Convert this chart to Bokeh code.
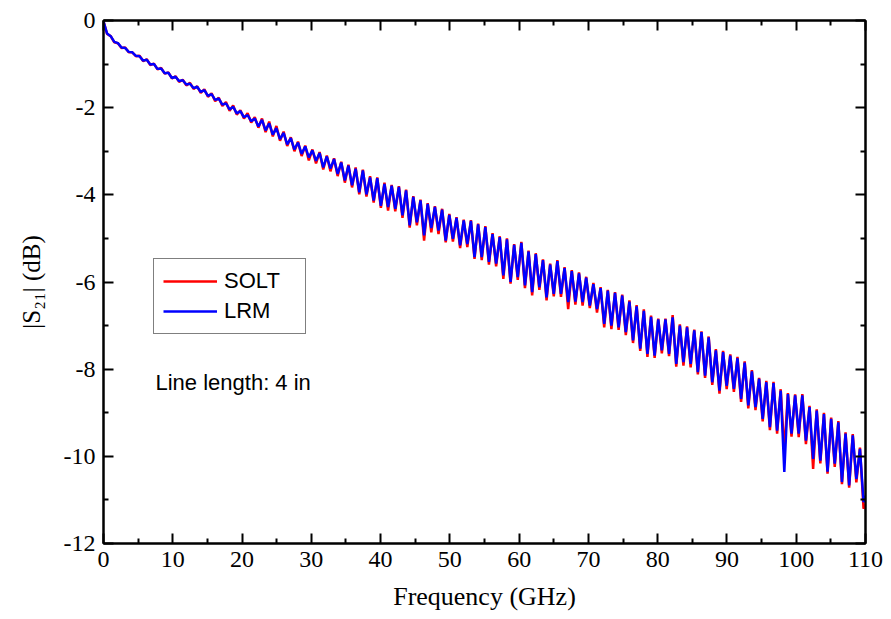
from bokeh.plotting import figure
from bokeh.models import (ColumnDataSource, FixedTicker, LinearAxis, Range1d,
                          Legend, LegendItem, Label)
from bokeh.embed import file_html
from bokeh.resources import INLINE

# Frequency sweep points (GHz) (peaks / troughs of the ripple)
freq_ghz = [
    0.0, 0.52, 1.04, 1.56, 2.08, 2.6, 3.12, 3.64, 4.16, 4.68,
    5.2, 5.72, 6.24, 6.76, 7.28, 7.8, 8.32, 8.84, 9.36, 9.88,
    10.4, 10.92, 11.44, 11.96, 12.48, 13.0, 13.52, 14.04, 14.56, 15.08,
    15.6, 16.12, 16.64, 17.16, 17.68, 18.2, 18.72, 19.24, 19.76, 20.28,
    20.8, 21.32, 21.84, 22.36, 22.88, 23.4, 23.92, 24.44, 24.96, 25.48,
    26.0, 26.52, 27.04, 27.56, 28.08, 28.6, 29.12, 29.64, 30.16, 30.68,
    31.2, 31.72, 32.24, 32.76, 33.28, 33.8, 34.32, 34.84, 35.36, 35.88,
    36.4, 36.92, 37.44, 37.96, 38.48, 39.0, 39.52, 40.04, 40.56, 41.08,
    41.6, 42.12, 42.64, 43.16, 43.68, 44.2, 44.72, 45.24, 45.76, 46.28,
    46.8, 47.32, 47.84, 48.36, 48.88, 49.4, 49.92, 50.44, 50.96, 51.48,
    52.0, 52.52, 53.04, 53.56, 54.08, 54.6, 55.12, 55.64, 56.16, 56.68,
    57.2, 57.72, 58.24, 58.76, 59.28, 59.8, 60.32, 60.84, 61.36, 61.88,
    62.4, 62.92, 63.44, 63.96, 64.48, 65.0, 65.52, 66.04, 66.56, 67.08,
    67.6, 68.12, 68.64, 69.16, 69.68, 70.2, 70.72, 71.24, 71.76, 72.28,
    72.8, 73.32, 73.84, 74.36, 74.88, 75.4, 75.92, 76.44, 76.96, 77.48,
    78.0, 78.52, 79.04, 79.56, 80.08, 80.6, 81.12, 81.64, 82.16, 82.68,
    83.2, 83.72, 84.24, 84.76, 85.28, 85.8, 86.32, 86.84, 87.36, 87.88,
    88.4, 88.92, 89.44, 89.96, 90.48, 91.0, 91.52, 92.04, 92.56, 93.08,
    93.6, 94.12, 94.64, 95.16, 95.68, 96.2, 96.72, 97.24, 97.76, 98.28,
    98.8, 99.32, 99.84, 100.36, 100.88, 101.4, 101.92, 102.44, 102.96, 103.48,
    104.0, 104.52, 105.04, 105.56, 106.08, 106.6, 107.12, 107.64, 108.16, 108.68,
    109.2, 109.72, 110.0,
]

# |S21| (dB), SOLT calibration (red)
s21_solt_db = [
    -0.02, -0.31, -0.36, -0.50, -0.52, -0.63, -0.62, -0.73, -0.73, -0.82,
    -0.81, -0.93, -0.89, -1.02, -0.99, -1.12, -1.09, -1.22, -1.19, -1.33,
    -1.28, -1.41, -1.36, -1.49, -1.43, -1.57, -1.51, -1.66, -1.58, -1.75,
    -1.67, -1.85, -1.77, -1.96, -1.87, -2.07, -1.95, -2.16, -2.06, -2.25,
    -2.13, -2.34, -2.22, -2.46, -2.25, -2.56, -2.32, -2.66, -2.42, -2.76,
    -2.55, -2.88, -2.68, -3.00, -2.78, -3.11, -2.87, -3.21, -2.96, -3.28,
    -3.02, -3.42, -3.10, -3.46, -3.16, -3.57, -3.24, -3.72, -3.31, -3.83,
    -3.37, -3.99, -3.42, -4.04, -3.57, -4.18, -3.60, -4.30, -3.72, -4.36,
    -3.77, -4.38, -3.80, -4.53, -3.88, -4.75, -4.03, -4.70, -4.11, -5.05,
    -4.19, -4.86, -4.26, -4.90, -4.32, -5.09, -4.44, -5.07, -4.51, -5.22,
    -4.57, -5.20, -4.58, -5.47, -4.66, -5.50, -4.72, -5.60, -4.88, -5.64,
    -4.95, -5.93, -5.00, -6.04, -5.13, -5.95, -5.08, -6.14, -5.28, -6.31,
    -5.34, -6.18, -5.48, -6.42, -5.58, -6.33, -5.50, -6.34, -5.66, -6.62,
    -5.73, -6.52, -5.78, -6.54, -5.88, -6.60, -6.02, -6.70, -6.12, -7.04,
    -6.18, -7.08, -6.23, -7.10, -6.29, -7.22, -6.42, -7.40, -6.53, -7.58,
    -6.63, -7.72, -6.77, -7.74, -6.84, -7.64, -6.84, -7.70, -6.76, -7.94,
    -6.97, -7.92, -7.02, -7.96, -7.09, -8.12, -7.13, -8.20, -7.25, -8.36,
    -7.54, -8.56, -7.58, -8.46, -7.66, -8.52, -7.72, -8.75, -7.82, -8.90,
    -8.02, -8.94, -8.20, -9.20, -8.27, -9.40, -8.29, -9.48, -8.46, -9.90,
    -8.55, -9.55, -8.58, -9.56, -8.57, -9.72, -8.84, -10.29, -8.92, -10.16,
    -9.00, -10.40, -9.11, -10.24, -9.19, -10.64, -9.45, -10.72, -9.49, -10.60,
    -9.80, -11.20, -11.10,
]

# |S21| (dB), LRM calibration (blue)
s21_lrm_db = [
    -0.02, -0.30, -0.36, -0.49, -0.52, -0.62, -0.63, -0.72, -0.73, -0.81,
    -0.82, -0.92, -0.90, -1.01, -1.00, -1.11, -1.10, -1.21, -1.20, -1.32,
    -1.29, -1.39, -1.37, -1.47, -1.45, -1.55, -1.52, -1.64, -1.60, -1.73,
    -1.69, -1.82, -1.79, -1.93, -1.90, -2.04, -1.98, -2.13, -2.08, -2.22,
    -2.17, -2.31, -2.25, -2.43, -2.28, -2.52, -2.36, -2.62, -2.47, -2.72,
    -2.58, -2.84, -2.70, -2.96, -2.80, -3.06, -2.89, -3.14, -2.98, -3.22,
    -3.04, -3.37, -3.12, -3.40, -3.18, -3.52, -3.26, -3.67, -3.33, -3.78,
    -3.40, -3.94, -3.44, -3.99, -3.60, -4.13, -3.62, -4.25, -3.75, -4.28,
    -3.79, -4.32, -3.82, -4.47, -3.90, -4.70, -4.05, -4.63, -4.13, -4.93,
    -4.21, -4.76, -4.28, -4.82, -4.34, -5.05, -4.46, -5.01, -4.53, -5.16,
    -4.59, -5.13, -4.60, -5.43, -4.68, -5.43, -4.74, -5.54, -4.90, -5.58,
    -4.97, -5.85, -5.02, -6.00, -5.15, -5.89, -5.10, -6.08, -5.30, -6.23,
    -5.36, -6.12, -5.50, -6.35, -5.60, -6.27, -5.52, -6.27, -5.68, -6.46,
    -5.75, -6.45, -5.80, -6.46, -5.90, -6.54, -6.05, -6.62, -6.14, -6.96,
    -6.20, -7.00, -6.25, -7.04, -6.31, -7.15, -6.45, -7.34, -6.56, -7.53,
    -6.66, -7.65, -6.80, -7.69, -6.86, -7.57, -6.86, -7.65, -6.81, -7.88,
    -7.00, -7.84, -7.04, -7.88, -7.11, -8.07, -7.15, -8.15, -7.27, -8.30,
    -7.57, -8.49, -7.61, -8.38, -7.69, -8.45, -7.75, -8.68, -7.85, -8.83,
    -8.05, -8.87, -8.22, -9.14, -8.30, -9.33, -8.32, -9.41, -8.49, -10.36,
    -8.57, -9.48, -8.60, -9.48, -8.60, -9.64, -8.87, -10.06, -8.95, -10.10,
    -9.03, -10.35, -9.14, -10.17, -9.22, -10.59, -9.48, -10.67, -9.52, -10.52,
    -9.83, -11.05, -10.90,
]

x_major_ticks = [0, 10, 20, 30, 40, 50, 60, 70, 80, 90, 100, 110]
x_minor_ticks = [5, 15, 25, 35, 45, 55, 65, 75, 85, 95, 105]
y_major_ticks = [0, -2, -4, -6, -8, -10, -12]
y_minor_ticks = [-1, -3, -5, -7, -9, -11]

series_names = ["SOLT", "LRM"]
x_title = "Frequency (GHz)"
y_title = "|S\u2082\u2081| (dB)"
note_text = "Line length: 4 in"

source = ColumnDataSource(data=dict(f=freq_ghz, solt=s21_solt_db, lrm=s21_lrm_db))

p = figure(width=885, height=615, output_backend="svg", toolbar_location=None,
           x_range=Range1d(0, 110), y_range=Range1d(-12, 0),
           min_border_left=103, min_border_right=20, min_border_top=20,
           min_border_bottom=72)
p.background_fill_color = "white"
p.border_fill_color = "white"
p.outline_line_color = "black"
p.outline_line_width = 2
p.xgrid.visible = False
p.ygrid.visible = False


def style_axis(ax, major, minor, labels=True):
    ax.ticker = FixedTicker(ticks=major, minor_ticks=minor)
    ax.axis_line_color = "black"
    ax.axis_line_width = 2
    ax.major_tick_in = 10
    ax.major_tick_out = 0
    ax.minor_tick_in = 5
    ax.minor_tick_out = 0
    ax.major_tick_line_color = "black"
    ax.minor_tick_line_color = "black"
    ax.major_tick_line_width = 2
    ax.minor_tick_line_width = 2
    if labels:
        ax.major_label_text_font = "Liberation Serif"
        ax.major_label_text_font_size = "24px"
        ax.major_label_text_color = "black"
        ax.major_label_standoff = 8
        ax.major_label_overrides = {t: str(t) for t in major}
    else:
        ax.major_label_text_font_size = "1px"
        ax.major_label_text_color = None
        ax.major_label_standoff = 0


style_axis(p.xaxis[0], x_major_ticks, x_minor_ticks)
style_axis(p.yaxis[0], y_major_ticks, y_minor_ticks)
p.xaxis[0].axis_label = x_title
p.xaxis[0].axis_label_text_font = "Liberation Serif"
p.xaxis[0].axis_label_text_font_size = "26px"
p.xaxis[0].axis_label_text_font_style = "normal"
p.xaxis[0].axis_label_text_color = "black"
p.xaxis[0].axis_label_standoff = 12

p.yaxis[0].axis_label = y_title
p.yaxis[0].axis_label_text_font = "Liberation Serif"
p.yaxis[0].axis_label_text_font_size = "25px"
p.yaxis[0].axis_label_text_font_style = "normal"
p.yaxis[0].axis_label_text_color = "black"
p.yaxis[0].axis_label_standoff = 16

top_axis = LinearAxis()
style_axis(top_axis, x_major_ticks, x_minor_ticks, labels=False)
p.add_layout(top_axis, "above")
right_axis = LinearAxis()
style_axis(right_axis, y_major_ticks, y_minor_ticks, labels=False)
p.add_layout(right_axis, "right")

r_solt = p.line("f", "solt", source=source, line_color="#ff0000", line_width=2.5)
r_lrm = p.line("f", "lrm", source=source, line_color="#0000ff", line_width=2.5)

legend = Legend(items=[LegendItem(label=series_names[0], renderers=[r_solt]),
                       LegendItem(label=series_names[1], renderers=[r_lrm])],
                location=(50, 209))
legend.label_text_font = "Liberation Sans"
legend.label_text_font_size = "22px"
legend.label_text_color = "black"
legend.glyph_width = 54
legend.glyph_height = 20
legend.label_height = 20
legend.label_width = 72
legend.label_standoff = 7
legend.spacing = 4
legend.padding = 9
legend.margin = 0
legend.border_line_color = "black"
legend.border_line_width = 1
legend.background_fill_color = "white"
legend.background_fill_alpha = 1
p.add_layout(legend)

p.add_layout(Label(x=52, y=161, x_units="screen", y_units="screen", text=note_text,
                   text_font="Liberation Sans", text_font_size="22px",
                   text_color="black", text_baseline="alphabetic", text_align="left"))

open("out.html", "w").write(file_html(p, INLINE))
